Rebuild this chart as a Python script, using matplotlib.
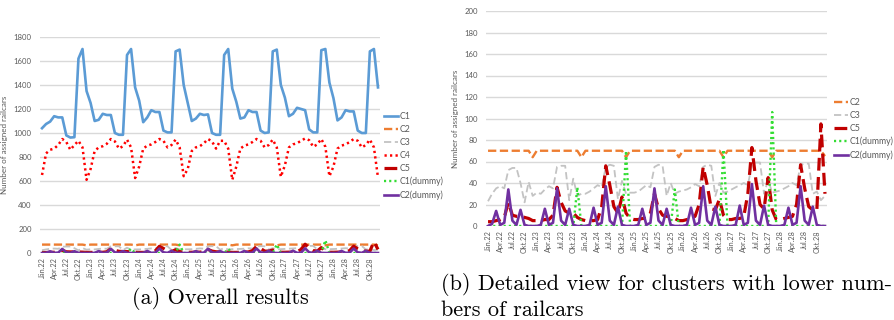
import numpy as np
import matplotlib.pyplot as plt

# monthly values Jan.22 .. Dec.28 (84 months)
years = ['22', '23', '24', '25', '26', '27', '28']
quarter_months = ['Jän', 'Apr', 'Jul', 'Okt']
tick_labels = [m + '.' + y for y in years for m in quarter_months]

c1 = [1040, 1075, 1095, 1140, 1130, 1130, 980, 962, 965, 1620, 1700, 1350,
      1250, 1100, 1110, 1160, 1150, 1150, 1000, 985, 985, 1650, 1700, 1380,
      1270, 1090, 1130, 1190, 1175, 1175, 1020, 1005, 1005, 1680, 1695, 1400,
      1250, 1100, 1120, 1160, 1150, 1155, 1000, 985, 985, 1650, 1700, 1370,
      1260, 1120, 1130, 1190, 1175, 1175, 1020, 1000, 1005, 1680, 1695, 1400,
      1295, 1140, 1160, 1210, 1200, 1190, 1030, 1005, 1005, 1690, 1700, 1420,
      1290, 1105, 1130, 1190, 1180, 1180, 1020, 1000, 1000, 1680, 1700, 1380]
c2 = [70, 70, 70, 70, 70, 70, 70, 70, 70, 70, 70, 64,
      70, 70, 70, 70, 70, 70, 70, 70, 70, 70, 70, 64,
      70, 70, 70, 70, 70, 70, 70, 70, 70, 70, 64, 70,
      70, 70, 70, 70, 70, 70, 70, 70, 70, 70, 70, 64,
      70, 70, 70, 70, 70, 70, 70, 70, 70, 70, 64, 70,
      70, 70, 70, 70, 70, 70, 70, 70, 70, 70, 64, 70,
      70, 70, 70, 70, 70, 70, 70, 70, 70, 70, 70, 65]
c3 = [23, 30, 35, 37, 35, 52, 54, 54, 40, 22, 41, 28,
      31, 30, 34, 37, 35, 55, 56, 56, 24, 44, 28, 30,
      30, 32, 35, 38, 36, 55, 57, 56, 25, 42, 30, 31,
      31, 32, 35, 38, 36, 55, 57, 56, 28, 40, 30, 32,
      33, 34, 36, 39, 37, 55, 57, 56, 28, 40, 31, 32,
      34, 36, 38, 40, 38, 57, 59, 59, 30, 43, 31, 32,
      33, 35, 37, 40, 38, 57, 58, 58, 30, 32, 24, 28]
c4 = [650, 830, 860, 870, 900, 950, 925, 860, 900, 935, 880, 610,
      700, 850, 880, 890, 910, 950, 930, 870, 890, 945, 880, 625,
      720, 870, 895, 905, 925, 950, 935, 880, 900, 945, 880, 640,
      700, 850, 880, 890, 915, 950, 930, 870, 935, 935, 870, 610,
      720, 870, 895, 905, 925, 950, 935, 880, 900, 945, 880, 635,
      730, 880, 905, 915, 935, 955, 940, 885, 905, 950, 885, 640,
      720, 870, 895, 905, 925, 950, 935, 880, 900, 945, 880, 630]
c5 = [4, 4, 5, 6, 8, 22, 10, 9, 9, 8, 7, 5,
      5, 5, 6, 6, 10, 36, 22, 14, 12, 12, 8, 6,
      5, 5, 5, 6, 18, 56, 38, 18, 12, 27, 12, 7,
      6, 6, 7, 7, 12, 30, 16, 10, 9, 9, 7, 5,
      5, 6, 7, 9, 20, 55, 38, 16, 15, 25, 10, 6,
      6, 7, 7, 9, 30, 73, 42, 20, 16, 45, 15, 6,
      6, 7, 8, 9, 20, 57, 35, 18, 15, 15, 95, 30]
c1_dummy = [0, 0, 0, 0, 0, 0, 0, 0, 0, 0, 0, 0,
            0, 0, 0, 0, 0, 0, 0, 0, 0, 0, 36, 0,
            0, 0, 0, 0, 0, 0, 0, 0, 0, 0, 70, 0,
            0, 0, 0, 0, 0, 0, 0, 0, 0, 0, 34, 0,
            0, 0, 0, 0, 0, 0, 0, 0, 0, 0, 71, 0,
            0, 0, 0, 0, 0, 0, 0, 0, 0, 0, 106, 0,
            0, 0, 0, 0, 0, 0, 0, 0, 0, 0, 0, 0]
c2_dummy = [0, 2, 14, 1, 3, 34, 5, 1, 15, 1, 0, 0,
            0, 1, 16, 1, 3, 35, 5, 1, 16, 1, 0, 0,
            0, 1, 17, 1, 3, 37, 5, 1, 18, 1, 0, 0,
            0, 1, 16, 1, 3, 35, 5, 1, 16, 1, 0, 0,
            0, 1, 17, 1, 3, 37, 5, 1, 18, 1, 0, 0,
            0, 1, 19, 1, 3, 39, 5, 1, 19, 1, 0, 0,
            0, 1, 17, 1, 3, 37, 5, 1, 18, 1, 0, 0]

series = {
    'C1': c1, 'C2': c2, 'C3': c3, 'C4': c4, 'C5': c5,
    'C1(dummy)': c1_dummy, 'C2(dummy)': c2_dummy,
}
styles = {
    'C1': dict(color='#5b9bd5', lw=1.9, ls='-'),
    'C2': dict(color='#ed7d31', lw=1.7, ls=(0, (3.5, 1.5))),
    'C3': dict(color='#c3c3c3', lw=1.3, ls=(0, (4, 2))),
    'C4': dict(color='#ff0000', lw=1.8, ls=(0, (0.9, 1.3))),
    'C5': dict(color='#c00000', lw=2.3, ls=(0, (4, 2))),
    'C1(dummy)': dict(color='#33dd33', lw=1.7, ls=(0, (0.9, 1.3))),
    'C2(dummy)': dict(color='#7030a0', lw=1.9, ls='-'),
}

plt.rcParams['font.family'] = ['Lato', 'DejaVu Sans']
txt_col = '#595959'

fig = plt.figure(figsize=(8.94, 3.2), dpi=100)
W, H = 894, 320
ax1 = fig.add_axes([40 / W, 1 - 253 / H, 340 / W, 216 / H])
ax2 = fig.add_axes([486 / W, 1 - 226 / H, 341 / W, 215 / H])

x = np.arange(len(c1))


def style_axis(ax, ymax, ystep):
    ax.set_xlim(-0.5, len(c1) - 0.5)
    ax.set_ylim(0, ymax)
    ax.set_yticks(np.arange(0, ymax + 1, ystep))
    ax.yaxis.grid(True, color='#d9d9d9', lw=1)
    ax.set_axisbelow(True)
    for s in ax.spines.values():
        s.set_visible(False)
    ax.set_xticks(np.arange(0, len(c1), 3))
    ax.set_xticklabels(tick_labels, rotation=90)
    ax.tick_params(axis='x', length=0, pad=3, labelsize=5.2, labelcolor=txt_col)
    ax.tick_params(axis='y', length=0, pad=6, labelsize=5.6, labelcolor=txt_col)
    ax.set_ylabel('Number of assigned railcars', fontsize=5.8, color=txt_col)


def add_legend(ax, lines, x_px, y_px):
    ax.legend(handles=lines, loc='center left',
              bbox_to_anchor=(x_px / W, 1 - y_px / H),
              bbox_transform=fig.transFigure, frameon=False, fontsize=6.3,
              handlelength=1.6, handletextpad=0.2, labelspacing=0.45,
              borderpad=0, borderaxespad=0, labelcolor=txt_col)


# (a) all clusters
lines1 = []
for name, vals in series.items():
    ln, = ax1.plot(x, vals, label=name, **styles[name])
    lines1.append(ln)
style_axis(ax1, 1800, 200)
add_legend(ax1, lines1, 384, 156)

# (b) clusters with lower numbers
lines2 = []
for name in ['C2', 'C3', 'C5', 'C1(dummy)', 'C2(dummy)']:
    ln, = ax2.plot(x, series[name], label=name, **styles[name])
    lines2.append(ln)
style_axis(ax2, 200, 20)
add_legend(ax2, lines2, 834, 129)

fig.text(220 / W, 1 - 298 / H, '(a) Overall results', family='cmr10',
         fontsize=16, ha='center', va='center')
fig.text(441 / W, 1 - 284 / H, '(b) Detailed view for clusters with lower num-',
         family='cmr10', fontsize=16, ha='left', va='center')
fig.text(441 / W, 1 - 310 / H, 'bers of railcars', family='cmr10',
         fontsize=16, ha='left', va='center')

fig.savefig('out.png', dpi=100)
